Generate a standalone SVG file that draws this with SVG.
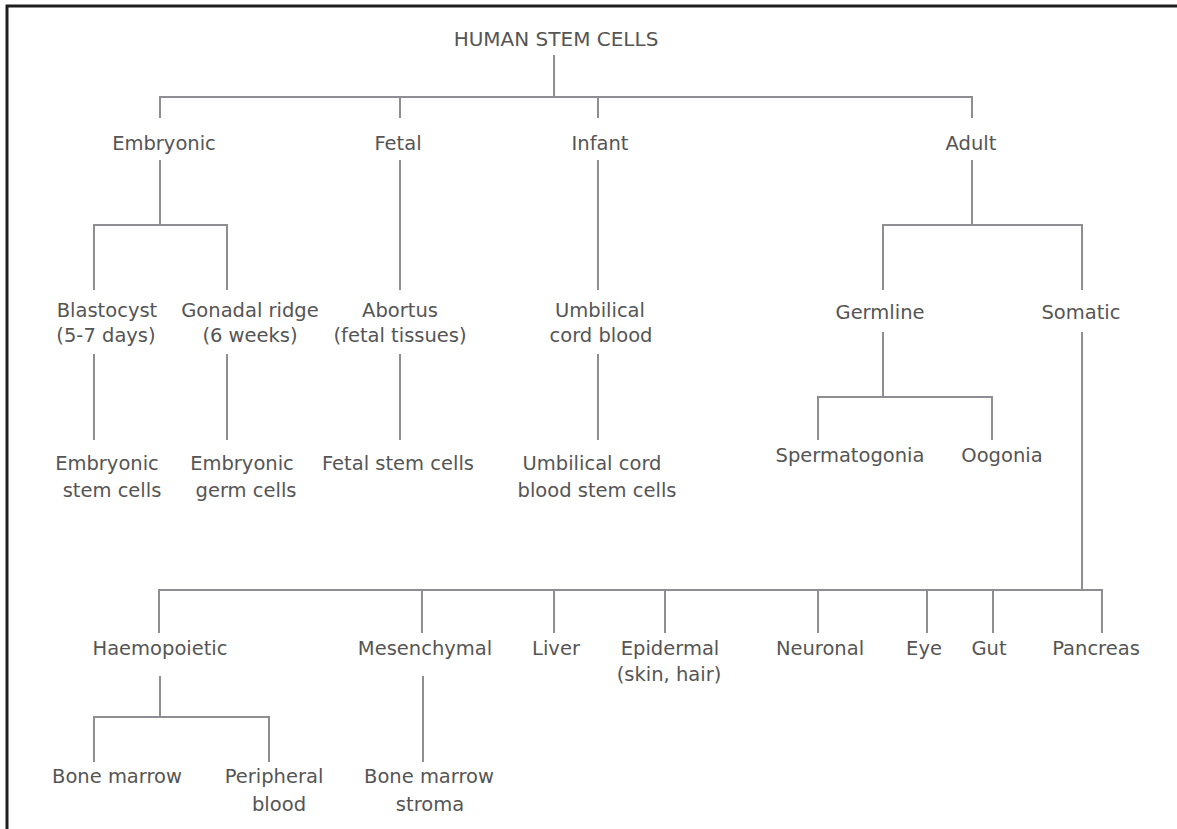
<svg xmlns="http://www.w3.org/2000/svg" width="1177" height="829" viewBox="0 0 1177 829">
<style>
text{font-family:"DejaVu Sans","Liberation Sans",sans-serif;font-size:19.5px;fill:#555;text-anchor:middle}
.title{font-size:20px}
.c line,.c path{stroke:#8e8e92;stroke-width:2;fill:none}
.border{stroke:#1e1e1e;stroke-width:3;fill:none}
</style>
<rect width="1177" height="829" fill="#fff"/>
<path class="border" d="M7,829 V6 H1177"/>
<g class="c" id="connectors">
<line x1="554" y1="55" x2="554" y2="97"/>
<path d="M160,118 V97 H972 V118"/>
<line x1="400" y1="97" x2="400" y2="118"/>
<line x1="598" y1="97" x2="598" y2="118"/>
<line x1="160" y1="160" x2="160" y2="225"/>
<path d="M94,290 V225 H227 V290"/>
<line x1="400" y1="160" x2="400" y2="290"/>
<line x1="598" y1="160" x2="598" y2="290"/>
<line x1="94" y1="354" x2="94" y2="440"/>
<line x1="227" y1="354" x2="227" y2="440"/>
<line x1="400" y1="354" x2="400" y2="440"/>
<line x1="598" y1="354" x2="598" y2="440"/>
<line x1="972" y1="160" x2="972" y2="225"/>
<path d="M883,290 V225 H1082 V290"/>
<line x1="883" y1="332" x2="883" y2="397"/>
<path d="M818,440 V397 H992 V440"/>
<line x1="1082" y1="332" x2="1082" y2="590"/>
<path d="M159,633 V590 H1102 V633"/>
<line x1="422" y1="590" x2="422" y2="633"/>
<line x1="554" y1="590" x2="554" y2="633"/>
<line x1="665" y1="590" x2="665" y2="633"/>
<line x1="818" y1="590" x2="818" y2="633"/>
<line x1="927" y1="590" x2="927" y2="633"/>
<line x1="993" y1="590" x2="993" y2="633"/>
<line x1="160" y1="676" x2="160" y2="717"/>
<path d="M94,762 V717 H269 V762"/>
<line x1="423" y1="676" x2="423" y2="762"/>
</g>
<g id="n-root"><text class="title" x="556" y="46">HUMAN STEM CELLS</text></g>
<g id="n-embryonic"><text x="164" y="150">Embryonic</text></g>
<g id="n-fetal"><text x="398" y="150">Fetal</text></g>
<g id="n-infant"><text x="600" y="150">Infant</text></g>
<g id="n-adult"><text x="971" y="150">Adult</text></g>
<g id="n-blastocyst"><text x="107" y="317">Blastocyst</text><text x="106" y="342">(5-7 days)</text></g>
<g id="n-gonadal"><text x="250" y="317">Gonadal ridge</text><text x="250" y="342">(6 weeks)</text></g>
<g id="n-abortus"><text x="400" y="317">Abortus</text><text x="400" y="342">(fetal tissues)</text></g>
<g id="n-umbilical"><text x="600" y="317">Umbilical</text><text x="601" y="342">cord blood</text></g>
<g id="n-esc"><text x="107" y="470">Embryonic</text><text x="112" y="497">stem cells</text></g>
<g id="n-egc"><text x="242" y="470">Embryonic</text><text x="246" y="497">germ cells</text></g>
<g id="n-fsc"><text x="398" y="470">Fetal stem cells</text></g>
<g id="n-ucb"><text x="592" y="470">Umbilical cord</text><text x="597" y="497">blood stem cells</text></g>
<g id="n-germline"><text x="880" y="319">Germline</text></g>
<g id="n-somatic"><text x="1081" y="319">Somatic</text></g>
<g id="n-spermatogonia"><text x="850" y="462">Spermatogonia</text></g>
<g id="n-oogonia"><text x="1002" y="462">Oogonia</text></g>
<g id="n-haemopoietic"><text x="160" y="655">Haemopoietic</text></g>
<g id="n-mesenchymal"><text x="425" y="655">Mesenchymal</text></g>
<g id="n-liver"><text x="556" y="655">Liver</text></g>
<g id="n-epidermal"><text x="670" y="655">Epidermal</text><text x="669" y="681">(skin, hair)</text></g>
<g id="n-neuronal"><text x="820" y="655">Neuronal</text></g>
<g id="n-eye"><text x="924" y="655">Eye</text></g>
<g id="n-gut"><text x="989" y="655">Gut</text></g>
<g id="n-pancreas"><text x="1096" y="655">Pancreas</text></g>
<g id="n-bonemarrow"><text x="117" y="783">Bone marrow</text></g>
<g id="n-peripheral"><text x="274" y="783">Peripheral</text><text x="279" y="811">blood</text></g>
<g id="n-stroma"><text x="429" y="783">Bone marrow</text><text x="430" y="811">stroma</text></g>
</svg>
